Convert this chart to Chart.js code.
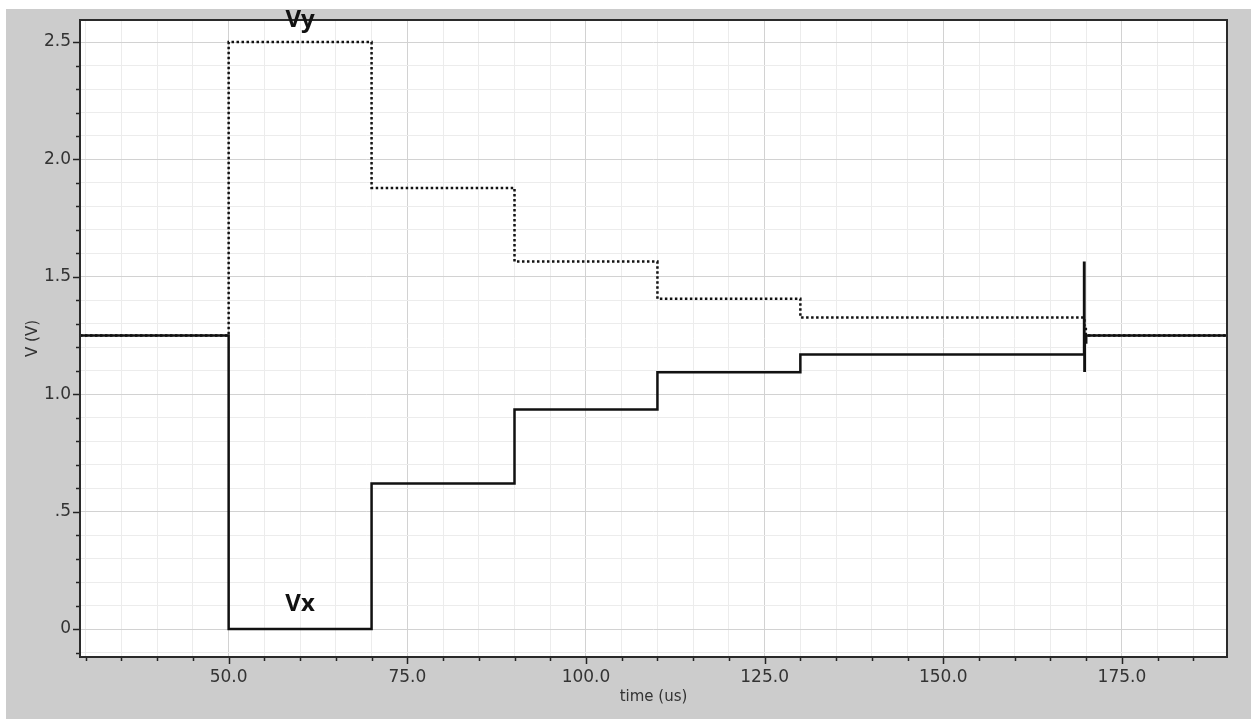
<script src="https://cdn.jsdelivr.net/npm/chart.js@4.4.1/dist/chart.umd.min.js"></script>
<body style="margin:0;background:#fff">
<canvas id="chart1" width="1251" height="719"></canvas>
<script>
    // Vx / Vy transient steps (time in us, volts)
    var vxTimes  = [29.2, 50, 70, 90, 110, 130, 169.7, 169.75, 169.8, 170.0, 189.7];
    var vxValues = [1.25, 0, 0.62, 0.935, 1.094, 1.169, 1.56, 1.10, 1.22, 1.25, 1.25];
    var vyTimes  = [29.2, 50, 70, 90, 110, 130, 169.75, 169.95, 189.7];
    var vyValues = [1.25, 2.5, 1.879, 1.565, 1.407, 1.327, 1.29, 1.25, 1.25];

    var xTickValues = [50, 75, 100, 125, 150, 175];
    var xTickLabels = ['50.0', '75.0', '100.0', '125.0', '150.0', '175.0'];
    var yTickValues = [0, 0.5, 1.0, 1.5, 2.0, 2.5];
    var yTickLabels = ['0', '.5', '1.0', '1.5', '2.0', '2.5'];

    var traceNames = ['Vx', 'Vy'];
    var traceLabelX = [60, 60];
    var traceLabelY = [0.077, 2.564];

    function toPoints(xs, ys) {
        return xs.map(function (x, i) { return {x: x, y: ys[i]}; });
    }
    function isMajor(list, v) {
        return list.some(function (m) { return Math.abs(m - v) < 1e-6; });
    }
    function minorRange(from, to, step) {
        var out = [];
        for (var v = from; v <= to + 1e-9; v += step) out.push({value: Math.round(v * 1000) / 1000});
        return out;
    }

    var bgPlugin = {
        id: 'bg',
        beforeDraw: function (chart) {
            var c = chart.ctx, a = chart.chartArea;
            c.save();
            c.fillStyle = '#ffffff';
            c.fillRect(0, 0, chart.width, chart.height);
            c.fillStyle = '#cccccc';
            c.fillRect(6, 9, chart.width - 6, chart.height - 9);
            c.fillStyle = '#ffffff';
            c.fillRect(a.left, a.top, a.right - a.left, a.bottom - a.top);
            c.restore();
        },
        afterDraw: function (chart) {
            var c = chart.ctx, a = chart.chartArea;
            var xs = chart.scales.x, ys = chart.scales.y;
            c.save();
            c.strokeStyle = '#222';
            c.lineWidth = 1.5;
            xs.ticks.forEach(function (t) {
                var px = Math.round(xs.getPixelForValue(t.value)) + 0.5;
                var len = isMajor(xTickValues, t.value) ? 7 : 4;
                c.beginPath(); c.moveTo(px, a.bottom); c.lineTo(px, a.bottom + len); c.stroke();
            });
            ys.ticks.forEach(function (t) {
                var py = Math.round(ys.getPixelForValue(t.value)) + 0.5;
                var len = isMajor(yTickValues, t.value) ? 7 : 4;
                c.beginPath(); c.moveTo(a.left - len, py); c.lineTo(a.left, py); c.stroke();
            });
            c.strokeStyle = '#2a2a2a';
            c.lineWidth = 2;
            c.strokeRect(a.left, a.top, a.right - a.left, a.bottom - a.top);
            // trace names
            c.fillStyle = '#111';
            c.font = 'bold 24px "Noto Sans"';
            c.textAlign = 'center';
            c.textBaseline = 'alphabetic';
            traceNames.forEach(function (n, i) {
                c.fillText(n, xs.getPixelForValue(traceLabelX[i]), ys.getPixelForValue(traceLabelY[i]));
            });
            c.restore();
        }
    };

    var chrt1 = document.getElementById('chart1').getContext('2d');
    var chartId1 = new Chart(chrt1, {
        type: 'line',
        data: {
            datasets: [{
                label: 'Vx',
                data: toPoints(vxTimes, vxValues),
                stepped: 'before',
                borderColor: '#111',
                borderWidth: 2.5,
                pointRadius: 0,
                fill: false,
                order: 0
            }, {
                label: 'Vy',
                data: toPoints(vyTimes, vyValues),
                stepped: 'before',
                borderColor: '#111',
                borderWidth: 2.5,
                borderDash: [2.5, 2.5],
                pointRadius: 0,
                fill: false,
                order: 1
            }]
        },
        options: {
            responsive: false,
            animation: false,
            events: [],
            layout: {padding: {top: 20, right: 24, bottom: 0, left: 0}},
            plugins: {legend: {display: false}, tooltip: {enabled: false}},
            scales: {
                x: {
                    type: 'linear',
                    min: 29.2,
                    max: 189.7,
                    afterBuildTicks: function (s) { s.ticks = minorRange(30, 185, 5); },
                    afterFit: function (s) { s.height = 62; },
                    border: {display: false},
                    grid: {
                        drawTicks: false,
                        lineWidth: 1,
                        color: function (ctx) { return isMajor(xTickValues, ctx.tick.value) ? '#d2d2d2' : '#ececec'; }
                    },
                    ticks: {
                        autoSkip: false,
                        maxRotation: 0,
                        padding: 10,
                        color: '#333',
                        font: {family: 'DejaVu Sans', size: 17},
                        callback: function (v) {
                            var i = xTickValues.findIndex(function (m) { return Math.abs(m - v) < 1e-6; });
                            return i < 0 ? '' : xTickLabels[i];
                        }
                    },
                    title: {
                        display: true,
                        text: 'time (us)',
                        color: '#333',
                        font: {family: 'DejaVu Sans', size: 15},
                        padding: {top: 0, bottom: 13}
                    }
                },
                y: {
                    type: 'linear',
                    min: -0.119,
                    max: 2.594,
                    afterBuildTicks: function (s) { s.ticks = minorRange(-0.1, 2.5, 0.1); },
                    afterFit: function (s) { s.width = 80; },
                    border: {display: false},
                    grid: {
                        drawTicks: false,
                        lineWidth: 1,
                        color: function (ctx) { return isMajor(yTickValues, ctx.tick.value) ? '#d2d2d2' : '#ececec'; }
                    },
                    ticks: {
                        autoSkip: false,
                        padding: 9,
                        color: '#333',
                        font: {family: 'DejaVu Sans', size: 17},
                        callback: function (v) {
                            var i = yTickValues.findIndex(function (m) { return Math.abs(m - v) < 1e-6; });
                            return i < 0 ? '' : yTickLabels[i];
                        }
                    },
                    title: {
                        display: true,
                        text: 'V (V)',
                        color: '#333',
                        font: {family: 'DejaVu Sans', size: 15},
                        padding: {top: 24, bottom: 0}
                    }
                }
            }
        },
        plugins: [bgPlugin]
    });
</script>
</body>
